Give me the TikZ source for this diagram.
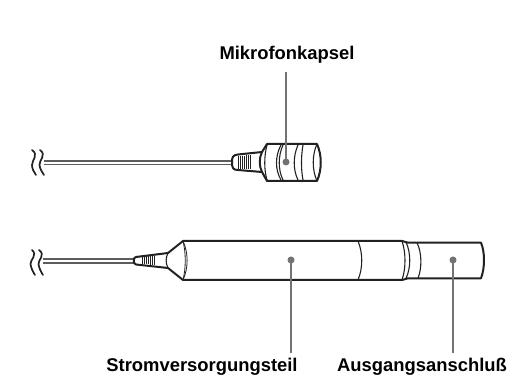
\documentclass[tikz,border=0pt]{standalone}
\usepackage{fontspec}
\setmainfont{Liberation Sans}
\definecolor{leader}{gray}{0.45}
\definecolor{ink}{gray}{0.13}
\tikzset{
  lab/.style={font=\bfseries\fontsize{18.4}{22}\selectfont,text=black,inner sep=0pt,anchor=base},
  thick line/.style={draw=ink,line width=2pt,line join=round,line cap=round},
  thin line/.style={draw=ink,line width=.8pt},
  mid line/.style={draw=ink,line width=1.1pt},
  cable/.style={draw=leader!80!black,line width=1.6pt},
  lead/.style={draw=leader,line width=2.2pt},
  dotmark/.style={circle,fill=leader,inner sep=0pt,minimum size=7pt},
  wave/.style={draw=ink,line width=1.7pt,line cap=round}
}
\begin{document}
\begin{tikzpicture}[x=1pt,y=-1pt]
\useasboundingbox (0,0) rectangle (520,379);
% labels
\node[lab] (l1) at (287,60) {Mikrofonkapsel};
\node[lab] (l2) at (202,372) {Stromversorgungsteil};
\node[lab] (l3) at (422,372) {Ausgangsanschluß};
% top cable
\coordinate (c1a) at (44,161.3); \coordinate (c1b) at (233,161.3);
\coordinate (c2a) at (44,164.7); \coordinate (c2b) at (233,164.7);
\draw[cable] (c1a)--(c1b); \draw[cable] (c2a)--(c2b);
\draw[wave] (32,150) .. controls (39,155) and (32,160) .. (32,165) .. controls (32,169) and (34,172) .. (36,175);
\draw[wave] (40,150) .. controls (47,155) and (39,160) .. (39.5,165) .. controls (40,169) and (42,172) .. (44,175);
% top capsule
\draw[thick line,fill=white] (262,152) -- (238,154.5) .. controls (233,155) and (232,157) .. (232,162) .. controls (232,168) and (233,170) .. (238,170) -- (262,172);
\draw[thin line] (238,156.5)--(238,169) (240,156)--(240,169) (242,156)--(242,169) (244,156)--(244,169) (246,155.5)--(246,169.5) (248,155.5)--(248,169.5) (250,155.5)--(250,169.5);
\draw[thick line,fill=white] (262,152) -- (267,144) -- (317,144) .. controls (322,155) and (322,170) .. (317,181) -- (267,181) -- (262,172) .. controls (259,166) and (259,158) .. (262,152) -- cycle;
\draw[mid line] (317,144) .. controls (312,155) and (312,170) .. (317,181);
\draw[mid line] (267,145) .. controls (264,156) and (264,170) .. (267,180);
\draw[mid line] (281,145) .. controls (275,156) and (275,170) .. (281,180);
\draw[mid line] (283,145) .. controls (278,156) and (278,170) .. (283,180);
\draw[mid line] (298,145) .. controls (293,156) and (293,170) .. (298,180);
\draw[mid line] (303,145) .. controls (301,156) and (301,170) .. (303,180);
\node[dotmark] (d1) at (286,162) {};
\coordinate (s1) at (286,72);
\draw[lead] (s1) -- (d1.center);
% lower cable
\coordinate (c3a) at (43,259); \coordinate (c3b) at (134,259);
\coordinate (c4a) at (43,263); \coordinate (c4b) at (134,263);
\draw[cable] (c3a)--(c3b); \draw[cable] (c4a)--(c4b);
\draw[wave] (32,250) .. controls (38,255) and (30,260) .. (30.5,264) .. controls (31,268) and (33,272) .. (35,275);
\draw[wave] (39,250) .. controls (46,255) and (38,260) .. (38.5,264) .. controls (39,268) and (41,272) .. (43,275);
% lower body
\draw[thick line,fill=white] (168,253) -- (136,257) .. controls (133,257) and (133,264) .. (136,264.5) -- (168,268) -- (183,280) -- (402,280) -- (408,278.3) -- (481,278.3) .. controls (485,268) and (485,252) .. (481,242.7) -- (408,242.7) -- (402,241) -- (183,241) -- cycle;
\draw[mid line] (168,253) .. controls (165.5,258) and (165.5,263) .. (168,268);
\draw[thin line] (183,241) .. controls (186,253) and (186,268) .. (183,280);
\draw[thin line] (183,241) .. controls (188.5,253) and (188.5,268) .. (183,280);
\draw[thin line] (142,257)--(142,264) (144,257)--(144,264) (146,256.5)--(146,264.5) (148,256.5)--(148,264.5) (150,256)--(150,265) (152,256)--(152,265) (154,256)--(154,265);
\draw[mid line] (358,241) .. controls (363,253) and (363,268) .. (358,280);
\draw[mid line] (402,241) .. controls (406,253) and (406,268) .. (402,280);
\draw[mid line] (406,242) .. controls (411,253) and (411,268) .. (406,278.3);
\draw[mid line] (417,242.7) .. controls (422,253) and (422,268) .. (418,278.3);
\node[dotmark] (d2) at (291,260) {};
\node[dotmark] (d3) at (453,260) {};
\coordinate (e2) at (291,353);
\coordinate (e3) at (453,353);
\draw[lead] (d2.center) -- (e2);
\draw[lead] (d3.center) -- (e3);
\end{tikzpicture}
\end{document}
